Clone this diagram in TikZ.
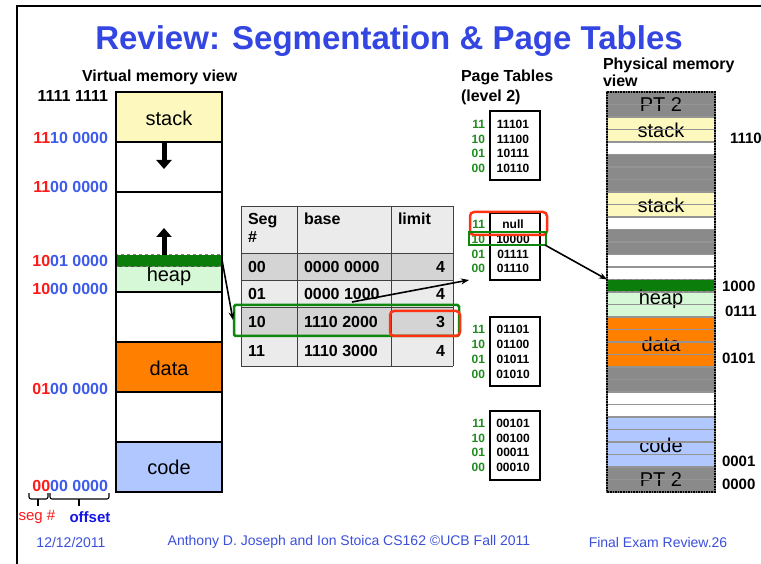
\documentclass[tikz,border=0pt]{standalone}
\usepackage{fontspec}
\setmainfont{Liberation Sans}
\usetikzlibrary{arrows.meta}
\definecolor{segred}{RGB}{255,25,25}
\definecolor{adrblue}{RGB}{60,90,235}
\definecolor{offblue}{RGB}{20,20,230}
\definecolor{ttlblue}{RGB}{52,70,225}
\definecolor{footblue}{RGB}{60,80,220}
\definecolor{stky}{RGB}{253,249,190}
\definecolor{heapg}{RGB}{214,248,214}
\definecolor{darkg}{RGB}{10,125,10}
\definecolor{datao}{RGB}{255,128,0}
\definecolor{codeb}{RGB}{176,200,255}
\definecolor{ptgrey}{RGB}{138,138,138}
\definecolor{tlight}{RGB}{235,235,235}
\definecolor{tdark}{RGB}{212,212,212}
\definecolor{ptgreen}{RGB}{30,140,30}
\definecolor{redbox}{RGB}{255,50,20}
\definecolor{greenbox}{RGB}{15,135,15}
\begin{document}
\begin{tikzpicture}[x=1pt,y=-1pt,
  every node/.style={inner sep=0pt, outer sep=0pt},
  vlabel/.style={font=\fontsize{16}{18}\selectfont\bfseries, anchor=east},
  hdr/.style={font=\fontsize{16}{18}\selectfont\bfseries},
  segtxt/.style={font=\fontsize{20}{24}\selectfont},
  vseg/.style={minimum width=106pt, draw=none},
  tabtxt/.style={font=\fontsize{16}{19}\selectfont\bfseries},
  ptnum/.style={font=\fontsize{12}{14}\selectfont\bfseries, text=ptgreen, anchor=east},
  ptval/.style={font=\fontsize{12}{14}\selectfont\bfseries},
  ptbox/.style={draw, line width=1.4pt, minimum width=50pt},
  pstripe/.style={minimum width=108pt, minimum height=12.5pt, draw=none},
  psep/.style={draw=black!42, line width=1.1pt},
  fatarrow/.style={line width=5pt, -{Triangle[width=15pt,length=9pt]}},
  thinarrow/.style={line width=1.6pt, -{Stealth[length=8pt,width=6pt]}},
  foot/.style={font=\fontsize{14}{16}\selectfont, text=footblue},
  rlabel/.style={font=\fontsize{15}{18}\selectfont\bfseries, anchor=west}
]
\useasboundingbox (0,0) rectangle (761,564);
\fill[white] (0,0) rectangle (761,564);
% slide frame
\draw[line width=2pt] (17,564) -- (17,6.5) -- (761,6.5);
% title
\node[font=\fontsize{33}{38}\selectfont\bfseries, text=ttlblue, anchor=base] (title) at (389,50) {Review: Segmentation \& Page Tables};
% headings
\node[hdr, anchor=base west] (vhead) at (82,82) {Virtual memory view};
\node[hdr, anchor=base west, align=left] (pthead) at (461,82) {Page Tables};
\node[hdr, anchor=base west] (pthead2) at (461,102) {(level 2)};
\node[hdr, anchor=base west] (phhead) at (603,70) {Physical memory};
\node[hdr, anchor=base west] (phhead2) at (603,87) {view};

% ---------- virtual memory column ----------
\node[vseg, fill=stky, minimum height=50pt] (vstack) at (169,117) {};
\node[vseg, fill=white, minimum height=113pt] (vgap) at (169,198.5) {};
\node[vseg, fill=darkg, minimum height=12pt] (vgreen) at (169,261) {};
\node[vseg, fill=heapg, minimum height=25pt] (vheap) at (169,279.5) {};
\node[vseg, fill=white, minimum height=50pt] (vgap3) at (169,317) {};
\node[vseg, fill=datao, minimum height=50pt] (vdata) at (169,367) {};
\node[vseg, fill=white, minimum height=50pt] (vgap4) at (169,417) {};
\node[vseg, fill=codeb, minimum height=50pt] (vcode) at (169,467) {};
\node[segtxt] (tstack) at (169,118) {stack};
\node[segtxt] (theap) at (169,276) {heap};
\node[segtxt] (tdata) at (169,368) {data};
\node[segtxt] (tcode) at (169,467) {code};
\draw[dashed, black!50, line width=1pt] (vgreen.north west) rectangle (vgreen.south east);
\foreach \yy in {142,192,292,342,392,442}
  \draw[line width=1.6pt] (116,\yy) -- (222,\yy);
\draw[line width=2pt] (116,92) rectangle (222,492);
\coordinate (dnA) at (164,143);
\coordinate (dnB) at (164,169);
\coordinate (upA) at (164,255);
\coordinate (upB) at (164,228);
\draw[fatarrow] (dnA) -- (dnB);
\draw[fatarrow] (upA) -- (upB);

% left address labels
\node[vlabel] (a1) at (108,96) {1111 1111};
\node[vlabel] (a2) at (108,138) {{\color{segred}11}{\color{adrblue}10 0000}};
\node[vlabel] (a3) at (108,187) {{\color{segred}11}{\color{adrblue}00 0000}};
\node[vlabel] (a4) at (108,261) {{\color{segred}10}{\color{adrblue}01 0000}};
\node[vlabel] (a5) at (108,289) {{\color{segred}10}{\color{adrblue}00 0000}};
\node[vlabel] (a6) at (108,389) {{\color{segred}01}{\color{adrblue}00 0000}};
\node[vlabel] (a7) at (108,486) {{\color{segred}00}{\color{adrblue}00 0000}};
% braces
\draw[line width=1.1pt, rounded corners=2pt] (29,493) -- (29,499) -- (48,499) -- (48,493);
\draw[line width=1.1pt] (38,499) -- (38,506);
\draw[line width=1.1pt, rounded corners=2pt] (50,493) -- (50,499) -- (109,499) -- (109,493);
\draw[line width=1.1pt] (79,499) -- (79,506);
\node[font=\fontsize{15}{18}\selectfont, text=segred] (segl) at (37,517) {seg \#};
\node[font=\fontsize{15}{18}\selectfont\bfseries, text=offblue] (offl) at (90,517) {offset};

% ---------- segment table ----------
\fill[tlight] (241,206) rectangle (453,253);
\fill[tdark] (241,253) rectangle (453,280);
\fill[tlight] (241,280) rectangle (453,307);
\fill[tdark] (241,307) rectangle (453,336);
\fill[tlight] (241,336) rectangle (453,366);
\foreach \yy in {206,253,280,307,336,366}
  \draw[black!75, line width=0.9pt] (241,\yy) -- (453,\yy);
\foreach \xx in {241,297,391,453}
  \draw[black!75, line width=0.9pt] (\xx,206) -- (\xx,366);
\node[tabtxt, anchor=north west, align=left] (hseg) at (248,213) {Seg\\[-1pt]\#};
\node[tabtxt, anchor=north west] (hbase) at (304,213) {base};
\node[tabtxt, anchor=north west] (hlim) at (398,213) {limit};
\node[tabtxt, anchor=west] (s0) at (248,267) {00};
\node[tabtxt, anchor=west] (b0) at (304,267) {0000 0000};
\node[tabtxt, anchor=east] (l0) at (445,267) {4};
\node[tabtxt, anchor=west] (s1) at (248,294) {01};
\node[tabtxt, anchor=west] (b1) at (304,294) {0000 1000};
\node[tabtxt, anchor=east] (l1) at (445,294) {4};
\node[tabtxt, anchor=west] (s2) at (248,322) {10};
\node[tabtxt, anchor=west] (b2) at (304,322) {1110 2000};
\node[tabtxt, anchor=east] (l2) at (445,322) {3};
\node[tabtxt, anchor=west] (s3) at (248,351) {11};
\node[tabtxt, anchor=west] (b3) at (304,351) {1110 3000};
\node[tabtxt, anchor=east] (l3) at (445,351) {4};
\draw[greenbox, line width=2.5pt, rounded corners=1.5pt] (234,305) rectangle (459,336);
\draw[redbox, line width=2.5pt, rounded corners=4pt] (390,311) rectangle (460,336);

% ---------- page tables ----------
\node[ptbox, minimum height=69pt] (pt1) at (515,145.5) {};
\node[ptbox, minimum height=67pt] (pt2) at (515,246.5) {};
\node[ptbox, minimum height=69pt] (pt3) at (515,351.5) {};
\node[ptbox, minimum height=69pt] (pt4) at (515,445.5) {};
% box 1
\node[ptnum] (n1a) at (485,124) {11}; \node[ptval] (v1a) at (513,124) {11101};
\node[ptnum] (n1b) at (485,139) {10}; \node[ptval] (v1b) at (513,139) {11100};
\node[ptnum] (n1c) at (485,153) {01}; \node[ptval] (v1c) at (513,153) {10111};
\node[ptnum] (n1d) at (485,168) {00}; \node[ptval] (v1d) at (513,168) {10110};
% box 2
\node[ptnum] (n2a) at (485,224) {11}; \node[ptval] (v2a) at (513,224) {null};
\node[ptnum] (n2b) at (485,239) {10}; \node[ptval] (v2b) at (513,239) {10000};
\node[ptnum] (n2c) at (485,254) {01}; \node[ptval] (v2c) at (513,254) {01111};
\node[ptnum] (n2d) at (485,268) {00}; \node[ptval] (v2d) at (513,268) {01110};
% box 3
\node[ptnum] (n3a) at (485,329) {11}; \node[ptval] (v3a) at (513,329) {01101};
\node[ptnum] (n3b) at (485,344) {10}; \node[ptval] (v3b) at (513,344) {01100};
\node[ptnum] (n3c) at (485,359) {01}; \node[ptval] (v3c) at (513,359) {01011};
\node[ptnum] (n3d) at (485,374) {00}; \node[ptval] (v3d) at (513,374) {01010};
% box 4
\node[ptnum] (n4a) at (485,423) {11}; \node[ptval] (v4a) at (513,423) {00101};
\node[ptnum] (n4b) at (485,438) {10}; \node[ptval] (v4b) at (513,438) {00100};
\node[ptnum] (n4c) at (485,452) {01}; \node[ptval] (v4c) at (513,452) {00011};
\node[ptnum] (n4d) at (485,467) {00}; \node[ptval] (v4d) at (513,467) {00010};
\draw[redbox, line width=2.5pt, rounded corners=4pt] (470,212) rectangle (547,235);
\draw[greenbox, line width=2.5pt] (469,232) rectangle (546,245);

% ---------- physical memory column ----------
\foreach \i/\c in {0/ptgrey,1/ptgrey,2/stky,3/stky,4/white,5/ptgrey,6/ptgrey,7/ptgrey,
  8/stky,9/stky,10/white,11/ptgrey,12/ptgrey,13/white,14/white,15/darkg,16/heapg,17/heapg,
  18/datao,19/datao,20/datao,21/datao,22/ptgrey,23/ptgrey,24/white,25/white,
  26/codeb,27/codeb,28/codeb,29/codeb,30/ptgrey,31/ptgrey}
  \node[pstripe, fill=\c] (ps\i) at (661,{98.25+12.5*\i}) {};
\node[segtxt] (ppt1) at (661,105) {PT 2};
\node[segtxt] (pstk1) at (661,130) {stack};
\node[segtxt] (pstk2) at (661,205) {stack};
\node[segtxt] (pheap) at (661,299) {heap};
\node[segtxt] (pdata) at (661,344) {data};
\node[segtxt] (pcode) at (661,445) {code};
\node[segtxt] (ppt2) at (661,480) {PT 2};
\foreach \k in {1,...,31}
  \draw[psep] (607,{92+12.5*\k}) -- (715,{92+12.5*\k});
\draw[dashed, black!50, line width=1pt] (ps15.north west) rectangle (ps15.south east);
\draw[black!55, line width=1.6pt] (607,92) rectangle (715,492);
\draw[black, densely dotted, line width=1.6pt] (607,92) rectangle (715,492);
% right labels
\node[rlabel] (r1) at (730,138) {1110};
\node[rlabel] (r2) at (722,286) {1000};
\node[rlabel] (r3) at (725,311) {0111};
\node[rlabel] (r4) at (722,358) {0101};
\node[rlabel] (r5) at (722,461) {0001};
\node[rlabel] (r6) at (722,484) {0000};

% ---------- connectors ----------
\coordinate (hpfrom) at (222,260);
\coordinate (hpto) at (233,320);
\draw[thinarrow] (hpfrom) -- (hpto);
\coordinate (tabfrom) at (352,302);
\coordinate (tabto) at (469,280);
\draw[thinarrow] (tabfrom) -- (tabto);
\coordinate (ptfrom) at (545,245);
\draw[thinarrow] (ptfrom) -- (ps15.north west);

% ---------- footer ----------
\node[foot] (fdate) at (71,542) {12/12/2011};
\node[foot] (fauth) at (349,542) {Anthony D. Joseph and Ion Stoica CS162 ©UCB Fall 2011};
\node[foot] (fpage) at (658,542) {Final Exam Review.26};
\end{tikzpicture}
\end{document}
